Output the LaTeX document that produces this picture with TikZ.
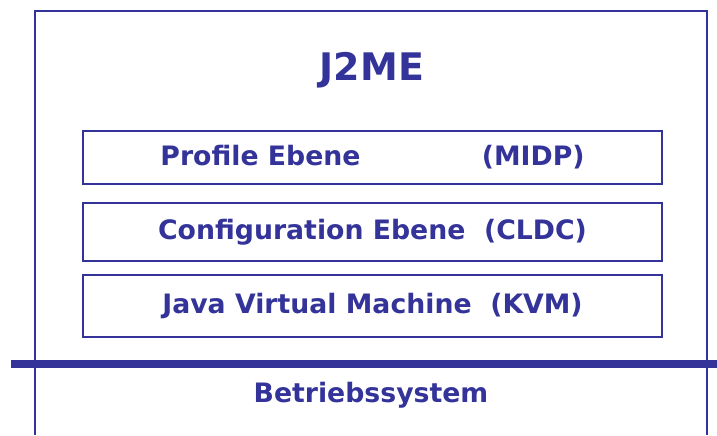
\documentclass[tikz,border=0pt]{standalone}
\usepackage{fontspec}
\setmainfont{DejaVu Sans}
\usepackage{xcolor}
\definecolor{layerblue}{RGB}{51,51,153}

\begin{document}
\begin{tikzpicture}[x=0.025cm,y=-0.025cm,thick,
    layer node/.style={draw=layerblue,line width=2pt,minimum width=14.475cm,font=\bfseries\fontsize{19}{23}\selectfont,text=layerblue},
    label node/.style={font=\bfseries\fontsize{19}{23}\selectfont,text=layerblue}]
  \useasboundingbox (0,0) rectangle (717,435);
  % frame, open at the bottom
  \draw[layerblue,line width=2pt] (35,435) -- (35,11) -- (707,11) -- (707,435);
  \node[label node,font=\bfseries\fontsize{27}{32}\selectfont] (title) at (372,70) {J2ME};
  \node[layer node,minimum height=1.325cm] (profile) at (372.5,157.5)
    {\makebox[10.6cm]{Profile Ebene\hfill(MIDP)}};
  \node[layer node,minimum height=1.45cm] (config) at (372.5,232)
    {Configuration Ebene\ \ (CLDC)};
  \node[layer node,minimum height=1.55cm] (kvm) at (372.5,306)
    {Java Virtual Machine\ \ (KVM)};
  % operating system boundary
  \coordinate (osleft) at (11,364);
  \coordinate (osright) at (717,364);
  \draw[layerblue,line width=5.7pt] (osleft) -- (osright);
  \node[label node] (os) at (371,395) {Betriebssystem};
\end{tikzpicture}
\end{document}
